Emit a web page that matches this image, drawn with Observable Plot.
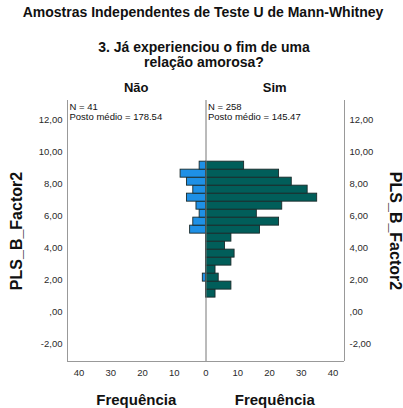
<!DOCTYPE html>
<html>
<head>
<meta charset="utf-8">
<script src="https://cdn.jsdelivr.net/npm/d3@7"></script>
<script src="https://cdn.jsdelivr.net/npm/@observablehq/plot@0.6"></script>
<style>
  html, body { margin: 0; padding: 0; background: #fff; }
  #wrap { position: relative; width: 403px; height: 408px; overflow: hidden; font-family: "Liberation Sans", Arial, sans-serif; color: #111; }
  #wrap svg { position: absolute; left: 0; top: 0; }
  .t { position: absolute; white-space: nowrap; }
  .c { transform: translateX(-50%); text-align: center; }
  .title { font-size: 14px; font-weight: bold; }
  .lab { font-size: 13px; font-weight: bold; }
  .axlab { font-size: 15px; font-weight: bold; }
  .ylab { font-size: 16px; font-weight: bold; }
</style>
</head>
<body>
<div id="wrap"></div>
<script>
// ---- data ----
const title = "Amostras Independentes de Teste U de Mann-Whitney";
const subtitle = ["3. Já experienciou o fim de uma", "relação amorosa?"];
const groups = ["Não", "Sim"];
const groupN = [41, 258];
const groupRank = ["178.54", "145.47"];
const binLow = [0.875, 1.375, 1.875, 2.375, 2.875, 3.375, 3.875, 4.375, 4.875, 5.375, 5.875, 6.375, 6.875, 7.375, 7.875, 8.375, 8.875];
const binWidth = 0.5;
const naoCounts = [0, 0, 1, 0, 0, 0, 0, 0, 5, 4, 2, 3, 6, 4, 6, 8, 2];
const simCounts = [3, 8, 4, 3, 8, 9, 6, 8, 17, 23, 16, 24, 35, 32, 27, 23, 12];
const yTicks = [-2, 0, 2, 4, 6, 8, 10, 12];
const xTicks = [-40, -30, -20, -10, 0, 10, 20, 30, 40];
const yLabel = "PLS_B_Factor2";
const xLabel = "Frequência";
const colors = { "Não": "#1e90e6", "Sim": "#015e5a" };

// ---- build ----
const xMax = 43.6;
const yDomain = [-3.12, 13.2];
const bars = [];
binLow.forEach((lo, i) => {
  if (naoCounts[i] > 0) bars.push({ g: "Não", lo, hi: lo + binWidth, x1: 0, x2: -naoCounts[i] });
  if (simCounts[i] > 0) bars.push({ g: "Sim", lo, hi: lo + binWidth, x1: 0, x2: simCounts[i] });
});
const fmt = d => d === 0 ? ",00" : d.toFixed(2).replace(".", ",");

const chart = Plot.plot({
  width: 403, height: 408,
  marginLeft: 67, marginRight: 59, marginTop: 100, marginBottom: 47,
  x: { domain: [-xMax, xMax] },
  y: { domain: yDomain },
  style: { fontFamily: "Liberation Sans, Arial, sans-serif", fontSize: "9.5px", color: "#2a2a2a", background: "transparent" },
  marks: [
    Plot.axisY({ anchor: "left", ticks: yTicks, tickSize: 0, tickPadding: 5, tickFormat: fmt, label: null }),
    Plot.axisY({ anchor: "right", ticks: yTicks, tickSize: 0, tickPadding: 5, tickFormat: fmt, label: null }),
    Plot.axisX({ ticks: xTicks, tickSize: 0, tickPadding: 8, tickFormat: d => Math.abs(d), label: null }),
    Plot.rectX(bars, { x1: "x1", x2: "x2", y1: "lo", y2: "hi", fill: d => colors[d.g], stroke: "#1a2a2a", strokeWidth: 0.9 }),
    Plot.ruleX([-xMax, xMax], { stroke: "#999", strokeWidth: 1 }),
    Plot.ruleY([yDomain[0]], { stroke: "#999", strokeWidth: 1 }),
    Plot.ruleX([0], { stroke: "#777", strokeWidth: 1 }),
    Plot.text([`N = ${groupN[0]}\nPosto médio = ${groupRank[0]}`], { frameAnchor: "top-left", textAnchor: "start", lineAnchor: "top", dx: 2, dy: 2, fontSize: 9.5, fill: "#111", lineHeight: 1.05 }),
    Plot.text([`N = ${groupN[1]}\nPosto médio = ${groupRank[1]}`], { x: 0, frameAnchor: "top", textAnchor: "start", lineAnchor: "top", dx: 2, dy: 2, fontSize: 9.5, fill: "#111", lineHeight: 1.05 })
  ]
});

const wrap = document.getElementById("wrap");
wrap.appendChild(chart);
const sx = chart.scale("x");
function addText(txt, cls, css) {
  const d = document.createElement("div");
  d.className = "t " + cls;
  d.textContent = txt;
  Object.assign(d.style, css);
  wrap.appendChild(d);
  return d;
}
addText(title, "title c", { left: "203px", top: "4px" });
addText(subtitle[0], "title c", { left: "204px", top: "39px" });
addText(subtitle[1], "title c", { left: "204px", top: "54px" });
const cL = sx.apply(-xMax / 2), cR = sx.apply(xMax / 2);
addText(groups[0], "lab c", { left: cL + "px", top: "80px" });
addText(groups[1], "lab c", { left: cR + "px", top: "80px" });
addText(xLabel, "axlab c", { left: cL + "px", top: "391px" });
addText(xLabel, "axlab c", { left: cR + "px", top: "391px" });
addText(yLabel, "ylab", { left: "17px", top: "231px", transform: "translate(-50%,-50%) rotate(-90deg)" });
addText(yLabel, "ylab", { left: "395px", top: "231px", transform: "translate(-50%,-50%) rotate(90deg)" });
</script>
</body>
</html>
